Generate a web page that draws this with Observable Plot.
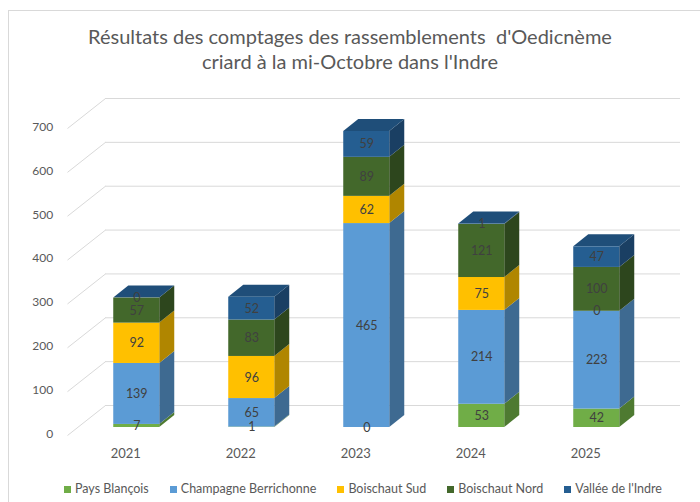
<!DOCTYPE html>
<html>
<head>
<meta charset="utf-8">
<script src="https://cdn.jsdelivr.net/npm/d3@7"></script>
<script src="https://cdn.jsdelivr.net/npm/@observablehq/plot@0.6"></script>
<style>
  html, body { margin: 0; padding: 0; background: #fff; }
  body { width: 700px; height: 502px; position: relative; overflow: hidden; font-family: Lato, "Open Sans", sans-serif; }
  #frame { position: absolute; left: 8px; top: 10px; width: 720px; height: 520px; border: 1px solid #d9d9d9; box-sizing: border-box; pointer-events: none; }
  #title { height: 80px; box-sizing: border-box; padding-top: 24px; text-align: center; color: #595959; font-size: 20px; line-height: 25px; white-space: pre; }
  #chart svg { display: block; }
  #legend { display: flex; justify-content: center; gap: 21px; padding-left: 26px; margin-top: 6px; font-size: 12.5px; color: #595959; line-height: 16px; }
  #legend .item { display: flex; align-items: center; gap: 4px; }
  #legend .sw { width: 7px; height: 7px; display: inline-block; }
</style>
</head>
<body>
<div id="frame"></div>
<div id="title">Résultats des comptages des rassemblements  d'Oedicnème
criard à la mi-Octobre dans l'Indre</div>
<div id="chart"></div>
<div id="legend"></div>
<script>
// ---- data ----
const years = [2021, 2022, 2023, 2024, 2025];
const seriesNames = ["Pays Blançois", "Champagne Berrichonne", "Boischaut Sud", "Boischaut Nord", "Vallée de l'Indre"];
const paysBlancois = [7, 1, 0, 53, 42];
const champagneBerrichonne = [139, 65, 465, 214, 223];
const boischautSud = [92, 96, 62, 75, 0];
const boischautNord = [57, 83, 89, 121, 100];
const valleeIndre = [0, 52, 59, 1, 47];
const yTicks = [0, 100, 200, 300, 400, 500, 600, 700];

// ---- styles ----
const frontColors = ["#70ad47", "#5b9bd5", "#ffc000", "#43682b", "#255e91"];
const sideColors  = ["#4e7a31", "#3e6a91", "#b08600", "#2d461d", "#1a3f63"];
const topColors   = ["#5a8a3a", "#4a7fb0", "#c99a00", "#36542a", "#1f4e79"];

const W = 700, H = 395, mL = 78.75, mR = 46.25, mT = 40, mB = 48;
const xDomain = [2020.5, 2025.5], yDomain = [0, 700];
const pxPerYear = (W - mL - mR) / (xDomain[1] - xDomain[0]);
const pxPerUnit = (H - mT - mB) / (yDomain[1] - yDomain[0]);
const halfW = 23 / pxPerYear;         // half bar width in x units
const depthX = 15 / pxPerYear;        // bar depth projection (x units)
const depthY = 12 / pxPerUnit;        // bar depth projection (y units)

const allSeries = [paysBlancois, champagneBerrichonne, boischautSud, boischautNord, valleeIndre];

// stacked segments
const segments = [];
years.forEach((yr, i) => {
  let base = 0;
  allSeries.forEach((arr, s) => {
    const v = arr[i];
    segments.push({year: yr, series: seriesNames[s], s, value: v, y1: base, y2: base + v, id: yr + "-" + s});
    base += v;
  });
});
const totals = years.map((yr, i) => ({year: yr, total: d3.sum(allSeries, a => a[i])}));

// side faces (parallelograms)
const sidePts = segments.filter(d => d.value > 0).flatMap(d => [
  {id: d.id, x: d.year + halfW, lo: d.y1, hi: d.y2, c: sideColors[d.s]},
  {id: d.id, x: d.year + halfW + depthX, lo: d.y1 + depthY, hi: d.y2 + depthY, c: sideColors[d.s]}
]);
// top faces
const topPts = totals.flatMap(t => [
  {id: t.year, y: t.total, xa: t.year - halfW, xb: t.year + halfW, c: topColors[4]},
  {id: t.year, y: t.total + depthY, xa: t.year - halfW + depthX, xb: t.year + halfW + depthX, c: topColors[4]}
]);

// back wall / label plane offsets (pixels relative to bar front plane)
const wallDx = 26.25, wallDy = -22, labDx = -11.75, labDy = 8;

const chart = Plot.plot({
  width: W, height: H,
  marginLeft: mL, marginRight: mR, marginTop: mT, marginBottom: mB,
  x: {domain: xDomain, axis: null},
  y: {domain: yDomain, axis: null},
  color: {type: "identity"},
  style: {fontFamily: "Lato, 'Open Sans', sans-serif", background: "transparent", overflow: "visible"},
  marks: [
    // back-wall gridlines
    Plot.ruleY(yTicks, {y: d => d, dx: wallDx, dy: wallDy, stroke: "#d9d9d9", strokeWidth: 1}),
    // side-wall diagonals
    Plot.link(yTicks, {
      x1: () => xDomain[0] + labDx / pxPerYear, y1: d => d - labDy / pxPerUnit,
      x2: () => xDomain[0] + wallDx / pxPerYear, y2: d => d - wallDy / pxPerUnit,
      stroke: "#d9d9d9", strokeWidth: 1
    }),
    // y tick labels
    Plot.text(yTicks, {x: () => xDomain[0], y: d => d, dx: -26, dy: 6.5, text: d => String(d), textAnchor: "end", fill: "#595959", fontSize: 12}),
    // x tick labels
    Plot.text(years, {x: d => d, y: () => 0, dx: -11, dy: 26, text: d => String(d), fill: "#595959", fontSize: 13}),
    // side faces
    Plot.area(sidePts, {x1: "x", y1: "lo", y2: "hi", z: "id", fill: "c", curve: "linear"}),
    // top faces
    Plot.area(topPts, {y1: "y", x1: "xa", x2: "xb", z: "id", fill: "c", curve: "linear"}),
    // front faces
    Plot.rect(segments.filter(d => d.value > 0), {x1: d => d.year - halfW, x2: d => d.year + halfW, y1: "y1", y2: "y2", fill: d => frontColors[d.s]}),
    // data labels
    Plot.text(segments, {x: "year", y: d => (d.y1 + d.y2) / 2, text: d => String(d.value), fill: "#404040", fontSize: 12.5})
  ]
});
document.getElementById("chart").appendChild(chart);

// legend
const legend = document.getElementById("legend");
seriesNames.forEach((name, s) => {
  const item = document.createElement("span");
  item.className = "item";
  const sw = document.createElement("span");
  sw.className = "sw";
  sw.style.background = frontColors[s];
  const label = document.createElement("span");
  label.textContent = name;
  item.appendChild(sw);
  item.appendChild(label);
  legend.appendChild(item);
});
</script>
</body>
</html>
